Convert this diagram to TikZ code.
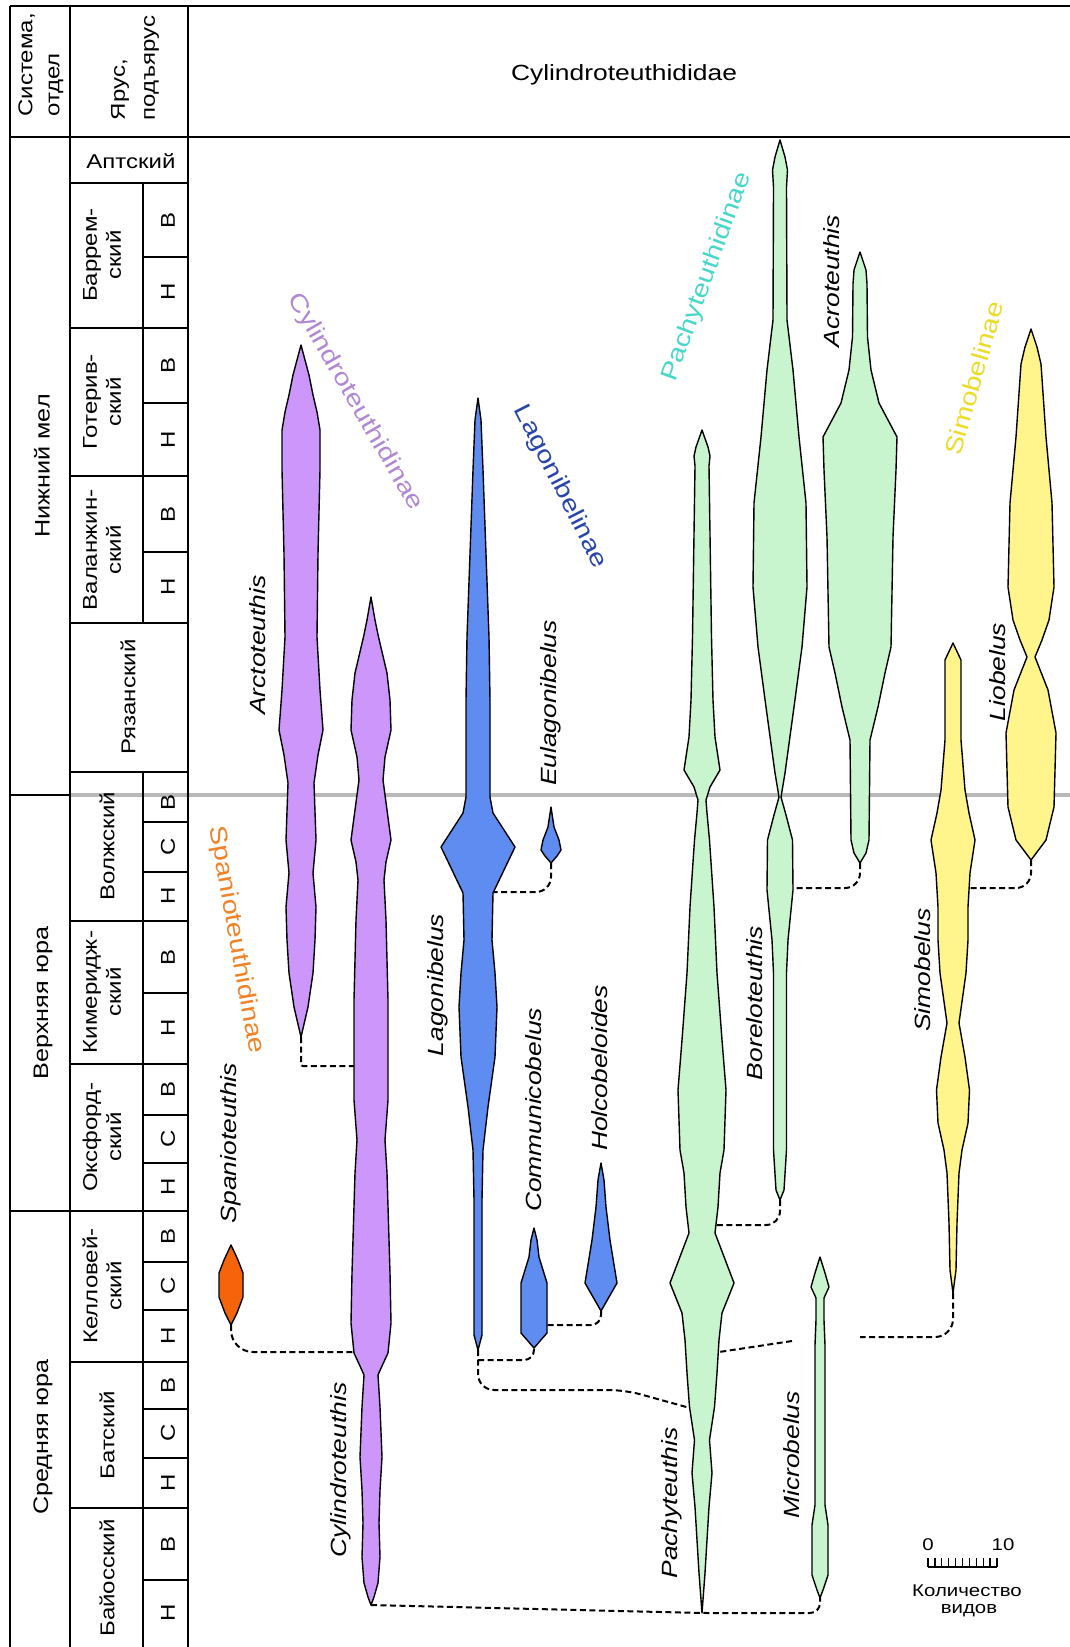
\documentclass[tikz,border=0pt]{standalone}
\usepackage{fontspec}
\setmainfont{Liberation Sans}[FakeStretch=1.2]

\definecolor{cylfill}{RGB}{205,150,250}
\definecolor{lagfill}{RGB}{95,140,240}
\definecolor{spafill}{RGB}{245,100,10}
\definecolor{pacfill}{RGB}{200,245,205}
\definecolor{simfill}{RGB}{255,245,140}
\definecolor{cyltext}{RGB}{175,135,210}
\definecolor{lagtext}{RGB}{40,70,170}
\definecolor{pactext}{RGB}{70,215,200}
\definecolor{simtext}{RGB}{235,220,40}
\definecolor{spatext}{RGB}{240,130,40}
\definecolor{gridgrey}{RGB}{185,185,185}

\tikzset{
  spindle/.style={draw=black, line width=1.4pt, line join=round},
  link/.style={draw=black, line width=2pt, dash pattern=on 6pt off 3.5pt},
  rule/.style={draw=black, line width=1.8pt},
  tabtext/.style={inner sep=0pt, font=\fontsize{20}{24}\selectfont},
  subtext/.style={inner sep=0pt, rotate=90, font=\fontsize{20}{24}\selectfont},
  genus/.style={inner sep=0pt, rotate=90, font=\fontsize{22}{26}\selectfont\itshape},
  clade/.style={inner sep=0pt, font=\fontsize{24}{28}\selectfont},
  scaletext/.style={inner sep=0pt, font=\fontsize{17}{20}\selectfont},
}

% symmetric range spindle: name, fill, centre x, top y, bottom y, list of y/half-width
\newcommand\spindle[6]{%
  \gdef\spL{}\gdef\spR{}%
  \foreach \yy/\hh in {#6}{%
    \pgfmathsetmacro\xl{#3-\hh}\pgfmathsetmacro\xr{#3+\hh}%
    \xdef\spL{\spL -- (\xl,\yy)}%
    \xdef\spR{-- (\xr,\yy) \spR}%
  }%
  \coordinate (#1-top) at (#3,#4);
  \coordinate (#1-bot) at (#3,#5);
  \edef\sptmp{\noexpand\draw[spindle,fill=#2] (#3,#4) \spL\space -- (#3,#5) \spR\space -- cycle;}%
  \sptmp
}

\begin{document}
\begin{tikzpicture}[x=1pt,y=-1pt]
\useasboundingbox (0,0) rectangle (1070,1647);
\fill[white] (0,0) rectangle (1070,1647);

% stage boundary at the Jurassic/Cretaceous limit
\draw[gridgrey, line width=4pt] (70,795) -- (1070,795);

% ---------- stratigraphic table ----------
\draw[black, line width=2.6pt] (10,6) -- (1070,6);
\draw[rule] (10,137) -- (1070,137);
\draw[rule] (10,6) -- (10,1647);
\draw[rule] (70,6) -- (70,1647);
\draw[rule] (188,6) -- (188,1647);
\draw[rule] (143,183) -- (143,623);
\draw[rule] (143,772) -- (143,1647);
\draw[rule] (10,795) -- (70,795);
\draw[rule] (10,1211) -- (70,1211);
\foreach \yy in {183,328,476,623,772,921,1064,1211,1362,1508}
  \draw[rule] (70,\yy) -- (188,\yy);
\foreach \yy in {257,403,552,822,872,993,1115,1163,1262,1310,1409,1458,1580}
  \draw[rule] (143,\yy) -- (188,\yy);

% header texts
\node[tabtext, rotate=90, align=left, font=\fontsize{20}{27}\selectfont] (hsys) at (41,65) {Система,\\отдел};
\node[tabtext, rotate=90, align=left, font=\fontsize{20}{30}\selectfont] (hst) at (135,68) {Ярус,\\подъярус};
\node[tabtext, font=\fontsize{22}{26}\selectfont] (hfam) at (624,75) {Cylindroteuthididae};

% systems / series
\node[tabtext, rotate=90, font=\fontsize{21}{25}\selectfont] (sys1) at (42,466) {Нижний мел};
\node[tabtext, rotate=90, font=\fontsize{21}{25}\selectfont] (sys2) at (43,1003) {Верхняя юра};
\node[tabtext, rotate=90, font=\fontsize{21}{25}\selectfont] (sys3) at (43,1437) {Средняя юра};

% stages
\node[tabtext] (apt) at (131,161) {Аптский};
\node[tabtext, rotate=90, align=center] (bar) at (102,255) {Баррем-\\ский};
\node[tabtext, rotate=90, align=center] (hau) at (102,402) {Готерив-\\ский};
\node[tabtext, rotate=90, align=center] (val) at (102,550) {Валанжин-\\ский};
\node[tabtext, rotate=90] (rya) at (128,697) {Рязанский};
\node[tabtext, rotate=90] (vol) at (107,846) {Волжский};
\node[tabtext, rotate=90, align=center] (kim) at (102,992) {Кимеридж-\\ский};
\node[tabtext, rotate=90, align=center] (oxf) at (102,1137) {Оксфорд-\\ский};
\node[tabtext, rotate=90, align=center] (cal) at (102,1286) {Келловей-\\ский};
\node[tabtext, rotate=90] (bat) at (107,1435) {Батский};
\node[tabtext, rotate=90] (baj) at (107,1578) {Байосский};

% substages
\foreach \yy/\ll [count=\i] in {220/В,292/Н,365/В,440/Н,514/В,587/Н,802/В,847/С,896/Н,957/В,1028/Н,1089/В,1139/С,1187/Н,1236/В,1286/С,1336/Н,1385/В,1433/С,1483/Н,1544/В,1613/Н}
  \node[subtext] (ss\i) at (168,\yy) {\ll};

% ---------- connection points on the ranges ----------
\coordinate (cylA) at (354,1066);
\coordinate (cylB) at (354,1352);
\coordinate (lagB1) at (478,1360);
\coordinate (lagB2) at (625,1390);
\coordinate (lagR) at (493,892);
\coordinate (comR) at (547,1325);
\coordinate (pacL) at (690,1408);
\coordinate (pacR1) at (716,1225);
\coordinate (pacR2) at (719,1352);
\coordinate (pacGap) at (792,1341);
\coordinate (borR) at (793,888);
\coordinate (simR) at (969,888);
\coordinate (simEnd) at (860,1337);

% ---------- ranges ----------
\spindle{arc}{cylfill}{301}{345}{1037}{360/4, 375/8, 395/12, 412/16, 430/19, 470/19, 554/17, 637/16, 690/19, 730/22, 755/17, 783/13, 840/15, 873/12, 907/15, 940/14, 973/12, 1007/7}
\spindle{cyl}{cylfill}{371}{597}{1605}{620/4, 637/7.5, 673/16, 700/19, 730/20, 757/14, 780/12, 810/16, 840/20, 862/15, 880/13, 920/15, 1000/17, 1100/17, 1140/14, 1173/16, 1273/19, 1323/20, 1353/17, 1366/11, 1375/7, 1407/9, 1457/11, 1490/9, 1523/8, 1557/9, 1583/7, 1597/3}
\spindle{spa}{spafill}{231}{1245}{1325}{1260/7, 1273/12, 1297/12, 1313/6}
\spindle{lag}{lagfill}{478}{398}{1350}{420/3, 470/5, 554/8, 637/11, 700/12, 797/12, 813/15, 847/37, 893/15, 940/14, 973/17, 1007/19, 1057/17, 1107/10, 1150/5, 1200/4, 1335/4}
\spindle{eul}{lagfill}{551}{807}{863}{827/3, 840/8, 850/10, 856/6}
\spindle{com}{lagfill}{534}{1228}{1348}{1240/3, 1257/5, 1283/13, 1333/13}
\spindle{hol}{lagfill}{601}{1163}{1311}{1180/3, 1207/5, 1240/9, 1283/16, 1297/8}
\spindle{pac}{pacfill}{702}{430}{1613}{447/6, 456/8, 466/7, 637/9.5, 700/11, 737/13, 770/18, 787/8, 800/4, 813/5, 840/7.5, 907/12, 973/15, 1040/20, 1090/24, 1150/22, 1173/18, 1207/16, 1233/13, 1283/32, 1313/20, 1340/17, 1373/15, 1407/12.5, 1440/7.5, 1473/10, 1507/7, 1540/5, 1573/3}
\spindle{bor}{pacfill}{780}{140}{1200}{157/5, 170/7.5, 187/6.5, 320/7, 370/13, 437/19, 503/26, 587/27, 647/22, 707/14, 773/5, 797/1, 815/6, 840/12.5, 890/13, 940/8, 973/6.5, 1150/6.5, 1190/4}
\spindle{acr}{pacfill}{860}{252}{863}{270/6, 284/7, 337/7.5, 370/11, 403/19, 437/37, 470/36, 537/33, 647/31, 673/25, 707/18, 740/10, 840/9, 853/6}
\spindle{mic}{pacfill}{820}{1257}{1598}{1273/5, 1287/9, 1298/4, 1320/4, 1345/5, 1505/5, 1525/8, 1575/8, 1590/3}
\spindle{sim}{simfill}{953}{643}{1293}{660/8, 740/8, 790/12, 813/16, 840/22, 873/17, 907/15, 940/15, 973/13, 1023/6, 1057/12, 1090/16.5, 1123/15, 1150/9, 1173/6, 1223/4, 1270/3}
\spindle{lio}{simfill}{1031}{329}{860}{347/6, 364/10, 437/15, 503/21, 587/23, 620/18, 640/11, 657/4, 690/17, 733/25, 807/23, 840/15}

% ---------- phylogenetic links ----------
\draw[link, rounded corners=2pt] (arc-bot) |- (cylA);
\draw[link, rounded corners=22pt] (spa-bot) |- (cylB);
\draw[link, rounded corners=10pt] (cyl-bot) -- (pac-bot) -| (mic-bot);
\draw[link, rounded corners=10pt] (lagB1) -| (com-bot);
\draw[link, rounded corners=16pt] (lag-bot) |- (lagB2) -- (pacL);
\draw[link, rounded corners=10pt] (hol-bot) |- (comR);
\draw[link, rounded corners=15pt] (eul-bot) |- (lagR);
\draw[link, rounded corners=14pt] (bor-bot) |- (pacR1);
\draw[link, rounded corners=15pt] (acr-bot) |- (borR);
\draw[link, rounded corners=15pt] (lio-bot) |- (simR);
\draw[link, rounded corners=18pt] (sim-bot) |- (simEnd);
\draw[link] (pacGap) -- (pacR2);

% ---------- genus names ----------
\node[genus] (g-arc) at (258,645) {Arctoteuthis};
\node[genus] (g-cyl) at (341,1470) {Cylindroteuthis};
\node[genus] (g-spa) at (231,1143) {Spanioteuthis};
\node[genus] (g-lag) at (438,985) {Lagonibelus};
\node[genus] (g-eul) at (551,703) {Eulagonibelus};
\node[genus] (g-com) at (534,1110) {Communicobelus};
\node[genus] (g-hol) at (600,1068) {Holcobeloides};
\node[genus] (g-pac) at (672,1503) {Pachyteuthis};
\node[genus] (g-mic) at (792,1455) {Microbelus};
\node[genus] (g-bor) at (755,1003) {Boreloteuthis};
\node[genus] (g-acr) at (832,281) {Acroteuthis};
\node[genus] (g-sim) at (923,970) {Simobelus};
\node[genus] (g-lio) at (998,672) {Liobelus};

% ---------- subfamily names ----------
\node[clade, text=cyltext, rotate=-60] (f-cyl) at (355,402) {Cylindroteuthidinae};
\node[clade, text=lagtext, rotate=-63] (f-lag) at (560,487) {Lagonibelinae};
\node[clade, text=pactext, rotate=70] (f-pac) at (707,277) {Pachyteuthidinae};
\node[clade, text=simtext, rotate=74] (f-sim) at (974,378) {Simobelinae};
\node[clade, text=spatext, rotate=-80] (f-spa) at (236,940) {Spanioteuthidinae};

% ---------- scale of species number ----------
\coordinate (sb0) at (928,1567);
\coordinate (sb10) at (997,1567);
\draw[black, line width=1.6pt] (sb0) -- (sb10);
\foreach \k in {0,...,10}
  \draw[black, line width=1.3pt] (928+6.9*\k,1567) -- (928+6.9*\k,1558);
\node[scaletext] (s0) at (928,1545) {0};
\node[scaletext] (s10) at (1003,1545) {10};
\node[scaletext] (s1) at (967,1591) {Количество};
\node[scaletext] (s2) at (969,1611) {видов};
\end{tikzpicture}
\end{document}
